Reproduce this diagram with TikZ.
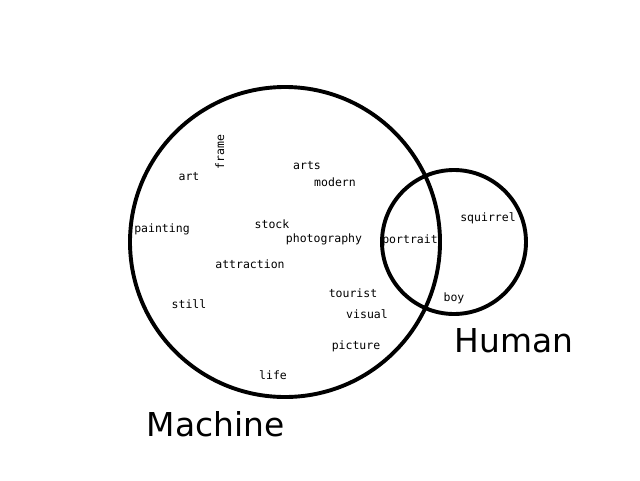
\documentclass[tikz,border=0pt]{standalone}
\usepackage{fontspec}
\setmainfont{DejaVu Sans}
\newfontfamily\wordfont{DejaVu Sans Mono}
\tikzset{
  setline/.style={line width=3.9pt},
  word/.style={font=\wordfont\fontsize{11.5}{13}\selectfont, inner sep=0pt, text height=8pt, text depth=0pt},
  setlabel/.style={font=\fontsize{32.9}{38}\selectfont, inner sep=0pt}
}
\begin{document}
\begin{tikzpicture}[x=1pt, y=-1pt]
        \useasboundingbox (0,0) rectangle (640,480);
        \coordinate (m) at (285,242); \coordinate (h) at (454,242);
        \draw[setline] (m) circle (155); % Machine set
        \draw[setline] (h) circle (72); % Human set
        \foreach \w/\x/\y in {art/189/176, arts/307/165, modern/335/182, painting/162/228,
            stock/272/224, photography/324/238, attraction/250/264, tourist/353/293,
            visual/367/314, picture/356/345, still/189/304, life/273/375,
            portrait/410/239, squirrel/488/217, boy/454/297}
          \node[word] (\w) at (\x,\y) {\w};
        \node[word, rotate=90] (frame) at (220,152) {frame};
        \node[setlabel] (machine) at (215.5,424) {Machine};
        \node[setlabel] (human) at (514,341) {Human};
    \end{tikzpicture}
\end{document}
